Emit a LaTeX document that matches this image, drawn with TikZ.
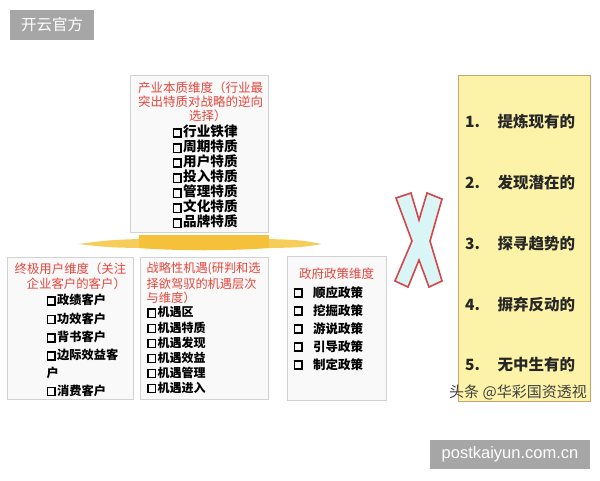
\documentclass[tikz,border=0pt]{standalone}
\usepackage{fontspec}
\setmainfont{Noto Sans CJK SC}
\newfontfamily\latsans{Liberation Sans}
\definecolor{titlered}{HTML}{E6463C}
\definecolor{panelline}{HTML}{D2D2D2}
\definecolor{panelfill}{HTML}{F9F9F9}
\definecolor{ylwfill}{HTML}{FCF3A8}
\definecolor{ylwline}{HTML}{C9A46C}
\definecolor{wmgray}{HTML}{A6A6A6}
\definecolor{bandc}{HTML}{F5C03A}
\definecolor{bandlight}{HTML}{F6CC5A}
\definecolor{xred}{HTML}{D2474A}
\definecolor{xfill}{HTML}{D9F5F6}
\newcommand\chkbx{\raisebox{0.2pt}{\setlength\fboxrule{1.5pt}\setlength\fboxsep{0pt}\fbox{\rule{0pt}{6.8pt}\rule{6.2pt}{0pt}}}\hspace{1.3pt}}
\begin{document}
\begin{tikzpicture}[x=1pt,y=-1pt,
  panel/.style={draw=panelline, fill=panelfill, line width=0.8pt, inner sep=0, minimum width=#1},
  ttl/.style={text=titlered, font=\fontsize{12.4}{14}\selectfont, inner sep=0, anchor=west},
  ttlc/.style={text=titlered, font=\fontsize{12.5}{14}\selectfont, inner sep=0},
  itm/.style={font=\bfseries\fontsize{#1}{14}\selectfont, inner sep=0, anchor=west},
  itm/.default=12.2,
  ylwitem/.style={font=\bfseries\fontsize{15.5}{18}\selectfont, inner sep=0, anchor=west, text=black!85},
  wmbox/.style={fill=wmgray, text=white, inner sep=0}
]
\useasboundingbox (0,0) rectangle (600,480);

% watermark top-left
\node[wmbox, minimum width=84, minimum height=30, font=\fontsize{15.5}{18}\selectfont] (wm1) at (52,25) {开云官方};

% top panel
\node[panel=138, minimum height=157] (toppanel) at (199,153.5) {};
\node[ttlc] (tt1) at (200.5,88) {产业本质维度（行业最};
\node[ttlc] (tt2) at (200.5,102) {突出特质对战略的逆向};
\node[ttl] (tt3) at (189,116) {选择）};
\foreach \t/\yy [count=\i] in {行业铁律/131.5,周期特质/146.5,用户特质/161.5,投入特质/176.5,管理特质/191.5,文化特质/206.5,品牌特质/221.5}
  \node[itm=13.6] (ti\i) at (172.5,\yy) {\chkbx\t};

% arrow band
\fill[bandlight] (78,244) .. controls (110,240) .. (139,239) -- (269,239) .. controls (300,240) .. (322,244) .. controls (300,247.5) .. (269,248) -- (139,248) .. controls (110,247.5) .. (78,244) -- cycle;
\fill[bandc] (139,235) -- (269,235) -- (269,248) .. controls (230,251) and (178,251) .. (139,248) -- cycle;

% bottom-left panel
\node[panel=126, minimum height=142] (leftpanel) at (70,328) {};
\node[ttl] (lt1) at (14.5,269) {终极用户维度（关注};
\node[ttl] (lt2) at (26.5,283.5) {企业客户的客户）};
\node[itm] (li1) at (46.5,300) {\chkbx 政绩客户};
\node[itm] (li2) at (46.5,318.5) {\chkbx 功效客户};
\node[itm] (li3) at (46.5,337) {\chkbx 背书客户};
\node[itm] (li4) at (46.5,355) {\chkbx 边际效益客};
\node[itm] (li5) at (46.5,373) {户};
\node[itm] (li6) at (46.5,390.5) {\chkbx 消费客户};

% middle panel
\node[panel=128, minimum height=142] (midpanel) at (204,328) {};
\node[ttl, font=\fontsize{12.2}{14}\selectfont] (mt1) at (146.5,269) {战略性机遇(研判和选};
\node[ttl, font=\fontsize{12.2}{14}\selectfont] (mt2) at (146.5,283.5) {择欲驾驭的机遇层次};
\node[ttl, font=\fontsize{12.2}{14}\selectfont] (mt3) at (146.5,298) {与维度）};
\foreach \t/\yy [count=\i] in {机遇区/312.5,机遇特质/327.5,机遇发现/342.5,机遇效益/357.5,机遇管理/372.5,机遇进入/387.5}
  \node[itm=12] (mi\i) at (146.8,\yy) {\chkbx\t};

% right panel
\node[panel=99, minimum height=144] (rightpanel) at (336.5,328) {};
\node[ttlc] (rt1) at (336.5,274) {政府政策维度};
\foreach \t/\yy [count=\i] in {顺应政策/293,挖掘政策/311,游说政策/329,引导政策/347,制定政策/365}{
  \node[itm=12.5] (rb\i) at (293.5,\yy) {\chkbx};
  \node[itm=12.5] (ri\i) at (313,\yy) {\t};
}

% X mark
\draw[draw=xred, line width=1.6pt, fill=xfill, line join=miter]
  (396,198) -- (411,193) -- (419,220) -- (427,193) -- (442,199) -- (430,241)
  -- (442,281) -- (429,287) -- (419,260) -- (408,287) -- (395,281) -- (412,241) -- cycle;

% yellow panel
\node[draw=ylwline, fill=ylwfill, line width=0.9pt, minimum width=132, minimum height=326, inner sep=0] (ylwpanel) at (524,238) {};
\foreach \n/\t/\yy [count=\i] in {1./提炼现有的/122,2./发现潜在的/183,3./探寻趋势的/243.5,4./摒弃反动的/305,5./无中生有的/365}{
  \node[ylwitem] (yn\i) at (465,\yy) {\n};
  \node[ylwitem] (yt\i) at (497.5,\yy) {\t};
}

% watermark text
\node[inner sep=0, anchor=west, text=black!75, font=\fontsize{15}{18}\selectfont] (wm2) at (449,392) {头条 @华彩国资透视};

% bottom-right watermark
\node[wmbox, minimum width=160, minimum height=29, font=\latsans\fontsize{16.5}{19}\selectfont] (wm3) at (510,454.5) {postkaiyun.com.cn};
\end{tikzpicture}
\end{document}
